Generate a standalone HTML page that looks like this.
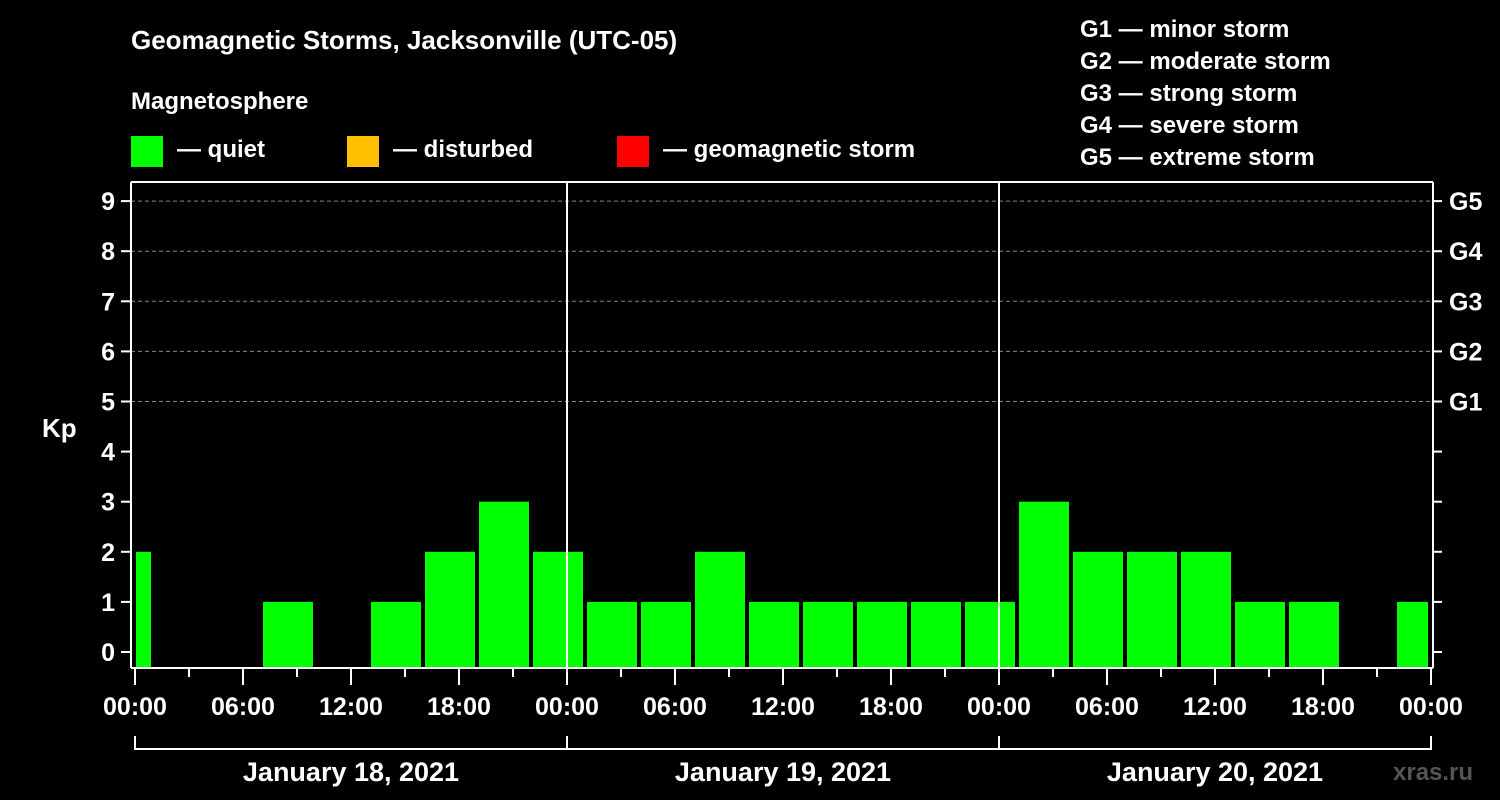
<!DOCTYPE html>
<html><head><meta charset="utf-8"><style>
html,body{margin:0;padding:0;background:#000;}
svg, svg text{font-family:"Liberation Sans",Arial,sans-serif;font-weight:bold;}
svg{display:block;}
</style></head><body>
<svg id="chart" width="1500" height="800" viewBox="0 0 1500 800" font-family="Liberation Sans, Arial, sans-serif" font-weight="bold">
<rect x="0" y="0" width="1500" height="800" fill="#000"/>
<text x="131" y="49" font-size="26" fill="#fff">Geomagnetic Storms, Jacksonville (UTC-05)</text>
<text x="131" y="109" font-size="24" fill="#fff">Magnetosphere</text>
<g><rect x="131" y="136" width="32" height="31" fill="#00ff00"/><text x="177" y="157" font-size="24" fill="#fff">— quiet</text></g>
<g><rect x="347" y="136" width="32" height="31" fill="#ffc000"/><text x="393" y="157" font-size="24" fill="#fff">— disturbed</text></g>
<g><rect x="617" y="136" width="32" height="31" fill="#ff0000"/><text x="663" y="157" font-size="24" fill="#fff">— geomagnetic storm</text></g>
<g font-size="24" fill="#fff">
<text x="1080" y="37">G1 — minor storm</text>
<text x="1080" y="69">G2 — moderate storm</text>
<text x="1080" y="101">G3 — strong storm</text>
<text x="1080" y="133">G4 — severe storm</text>
<text x="1080" y="165">G5 — extreme storm</text>
</g>
<text x="42" y="437" font-size="26" fill="#fff">Kp</text>
<text x="1393" y="780" font-size="24" fill="#555" font-weight="normal">xras.ru</text>
<g id="grid"></g><g id="bars"></g><g id="axes" font-family="Liberation Sans, Arial, sans-serif" font-weight="bold"></g>
</svg>
<script>
const kpValues = [2,0,0,1,0,1,2,3,2, 1,1,2,1,1,1,1,1, 3,2,2,2,1,1,0,1];
const firstBinHour = -2;
const yTicks = [0,1,2,3,4,5,6,7,8,9];
const gLabels = ["G1","G2","G3","G4","G5"];
const xTickLabels = ["00:00","06:00","12:00","18:00","00:00","06:00","12:00","18:00","00:00","06:00","12:00","18:00","00:00"];
const dayLabels = ["January 18, 2021","January 19, 2021","January 20, 2021"];

(function(){
const NS="http://www.w3.org/2000/svg";
const x0=135, pxH=18, plotLeft=131, plotRight=1433, plotTop=182, plotBottom=668;
const xS=h=>x0+h*pxH;
const yS=v=>652-v*50.1;
function mk(tag,attrs,parent){const e=document.createElementNS(NS,tag);for(const k in attrs)e.setAttribute(k,attrs[k]);parent.appendChild(e);return e;}
const grid=document.getElementById('grid'),bars=document.getElementById('bars'),axes=document.getElementById('axes');
yTicks.forEach(v=>{
  if(v>=5){const l=mk('line',{x1:plotLeft,x2:plotRight,y1:yS(v),y2:yS(v),stroke:'#888','stroke-dasharray':'4,3','stroke-width':1},grid);
  
  }
  const t=mk('line',{x1:plotLeft-10,x2:plotLeft,y1:yS(v),y2:yS(v),stroke:'#fff','stroke-width':2},axes);
  
  
  const tr=mk('line',{x1:plotRight,x2:plotRight+9,y1:yS(v),y2:yS(v),stroke:'#fff','stroke-width':2},axes);
  
  
  const tx=mk('text',{x:plotLeft-16,y:yS(v)+9,'text-anchor':'end','font-size':25,fill:'#fff'},axes);
  tx.textContent=v;
  
  
});
gLabels.forEach((g,i)=>{
  const tx=mk('text',{x:1449,y:yS(5+i)+9,'font-size':25,fill:'#fff'},axes);
  tx.textContent=g;
  
  
});
kpValues.forEach((v,i)=>{
  if(v<=0)return;
  let a=xS(firstBinHour+i*3)+2,b=xS(firstBinHour+i*3+3)-2;
  a=Math.max(a,x0+1);b=Math.min(b,xS(72)-3);
  const col=v>=5?'#ff0000':(v>=4?'#ffc000':'#00ff00');
  const r=mk('rect',{x:a,y:yS(v),width:b-a,height:plotBottom-yS(v),fill:col},bars);
  
  
});
[[plotLeft,plotTop,plotRight,plotTop],[plotLeft,plotTop,plotLeft,plotBottom],[plotRight,plotTop,plotRight,plotBottom],[plotLeft,plotBottom,plotRight,plotBottom]].forEach(c=>{
  const l=mk('line',{x1:c[0],y1:c[1],x2:c[2],y2:c[3],stroke:'#fff','stroke-width':2},axes);
  
  
});
[24,48].forEach(h=>{
  const l=mk('line',{x1:xS(h),x2:xS(h),y1:plotTop,y2:plotBottom,stroke:'#fff','stroke-width':2},axes);
  
  
});
for(let h=0;h<=72;h+=3){
  const l=mk('line',{x1:xS(h),x2:xS(h),y1:plotBottom,y2:h%6===0?plotBottom+17:plotBottom+9,stroke:'#fff','stroke-width':2},axes);
  
  
}
xTickLabels.forEach((s,i)=>{
  const tx=mk('text',{x:xS(i*6),y:715,'text-anchor':'middle','font-size':25,fill:'#fff'},axes);
  tx.textContent=s;
  
  
});
const br=mk('line',{x1:xS(0),x2:xS(72),y1:749,y2:749,stroke:'#fff','stroke-width':2},axes);


[0,24,48,72].forEach(h=>{
  const l=mk('line',{x1:xS(h),x2:xS(h),y1:736,y2:750,stroke:'#fff','stroke-width':2},axes);
  
  
});
dayLabels.forEach((d,i)=>{
  const tx=mk('text',{x:xS(i*24+12),y:781,'text-anchor':'middle','font-size':27,fill:'#fff'},axes);
  tx.textContent=d;
  
  
});
})();
</script>
</body></html>
